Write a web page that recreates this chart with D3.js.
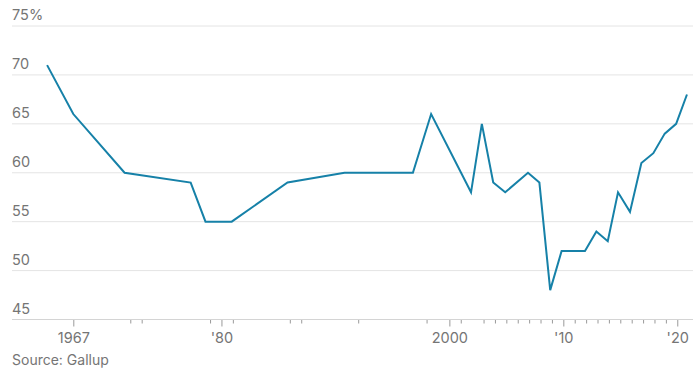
<!DOCTYPE html>
<html>
<head>
<meta charset="utf-8">
<script src="https://cdn.jsdelivr.net/npm/d3@7"></script>
<style>
  html, body { margin: 0; padding: 0; background: #fff; }
  svg { display: block; }
  text { font-family: Inter, "Open Sans", sans-serif; }
</style>
</head>
<body>
<svg id="chart" width="698" height="382"></svg>
<script>
// Data (x as decimal years, y as percent)
const years  = [1964.7, 1967.0, 1971.5, 1977.3, 1978.6, 1980.9, 1985.8, 1990.8, 1996.8, 1998.4,
                2001.9, 2002.85, 2003.85, 2004.9, 2006.9, 2007.9, 2008.85, 2009.85, 2011.9, 2012.9,
                2013.9, 2014.8, 2015.85, 2016.85, 2017.9, 2018.9, 2019.9, 2020.85];
const values = [71, 66, 60, 59, 55, 55, 59, 60, 60, 66,
                58, 65, 59, 58, 60, 59, 48, 52, 52, 54,
                53, 58, 56, 61, 62, 64, 65, 68];
const yTicks = [45, 50, 55, 60, 65, 70, 75];
const yTickLabels = ["45", "50", "55", "60", "65", "70", "75%"];
const majorTicks = [1967, 1980, 2000, 2010, 2020];
const majorLabels = ["1967", "'80", "2000", "'10", "'20"];
const minorTicks = [1972, 1973, 1979, 1981, 1986, 1987, 1992, 1998, 2001,
                    2003, 2004, 2005, 2006, 2007, 2008, 2009,
                    2011, 2012, 2013, 2014, 2015, 2016, 2017, 2018, 2019];
const sourceText = "Source: Gallup";

(function () {
const svg = d3.select("#chart");
const mLeft = 12, mRight = 693, mTop = 26, mBottom = 319.5;

const x = d3.scaleLinear().domain([1961.62, 2021.38]).range([mLeft, mRight]);
const y = d3.scaleLinear().domain([45, 75]).range([mBottom, mTop]);

// gridlines
svg.append("g").selectAll("line").data(yTicks.slice(1)).join("line")
  .attr("x1", mLeft).attr("x2", mRight)
  .attr("y1", d => y(d)).attr("y2", d => y(d))
  .attr("stroke", "#e4e4e4").attr("stroke-width", 1);

// y labels
svg.append("g").selectAll("text").data(yTicks).join("text")
  .attr("x", mLeft).attr("y", d => y(d) - 6)
  .attr("fill", "#757575").attr("font-size", 14.5)
  .text((d, i) => yTickLabels[i]);

// x axis: minor
const gMinor = svg.append("g").attr("transform", `translate(0,${mBottom})`)
  .call(d3.axisBottom(x).tickValues(minorTicks).tickSize(4).tickFormat(""));
gMinor.select(".domain").remove();
gMinor.selectAll(".tick line").attr("stroke", "#9a9a9a");

// x axis: major
const gMajor = svg.append("g").attr("transform", `translate(0,${mBottom})`)
  .call(d3.axisBottom(x).tickValues(majorTicks).tickSize(7)
    .tickFormat((d, i) => majorLabels[i]));
gMajor.select(".domain").remove();
gMajor.selectAll(".tick line").attr("stroke", "#9a9a9a");
gMajor.selectAll(".tick text")
  .attr("y", 23).attr("dy", 0)
  .attr("fill", "#757575").attr("font-size", 14.5)
  .attr("font-family", "Inter, 'Open Sans', sans-serif");

// baseline
svg.append("line")
  .attr("x1", mLeft).attr("x2", mRight)
  .attr("y1", mBottom).attr("y2", mBottom)
  .attr("stroke", "#d4d4d4").attr("stroke-width", 1);

// line
const data = years.map((d, i) => [d, values[i]]);
svg.append("path").datum(data)
  .attr("fill", "none")
  .attr("stroke", "#1681a8")
  .attr("stroke-width", 2)
  .attr("stroke-linejoin", "miter")
  .attr("d", d3.line().x(d => x(d[0])).y(d => y(d[1])));

// source
svg.append("text").attr("x", mLeft).attr("y", 365)
  .attr("fill", "#757575").attr("font-size", 14)
  .text(sourceText);
})();
</script>
</body>
</html>
